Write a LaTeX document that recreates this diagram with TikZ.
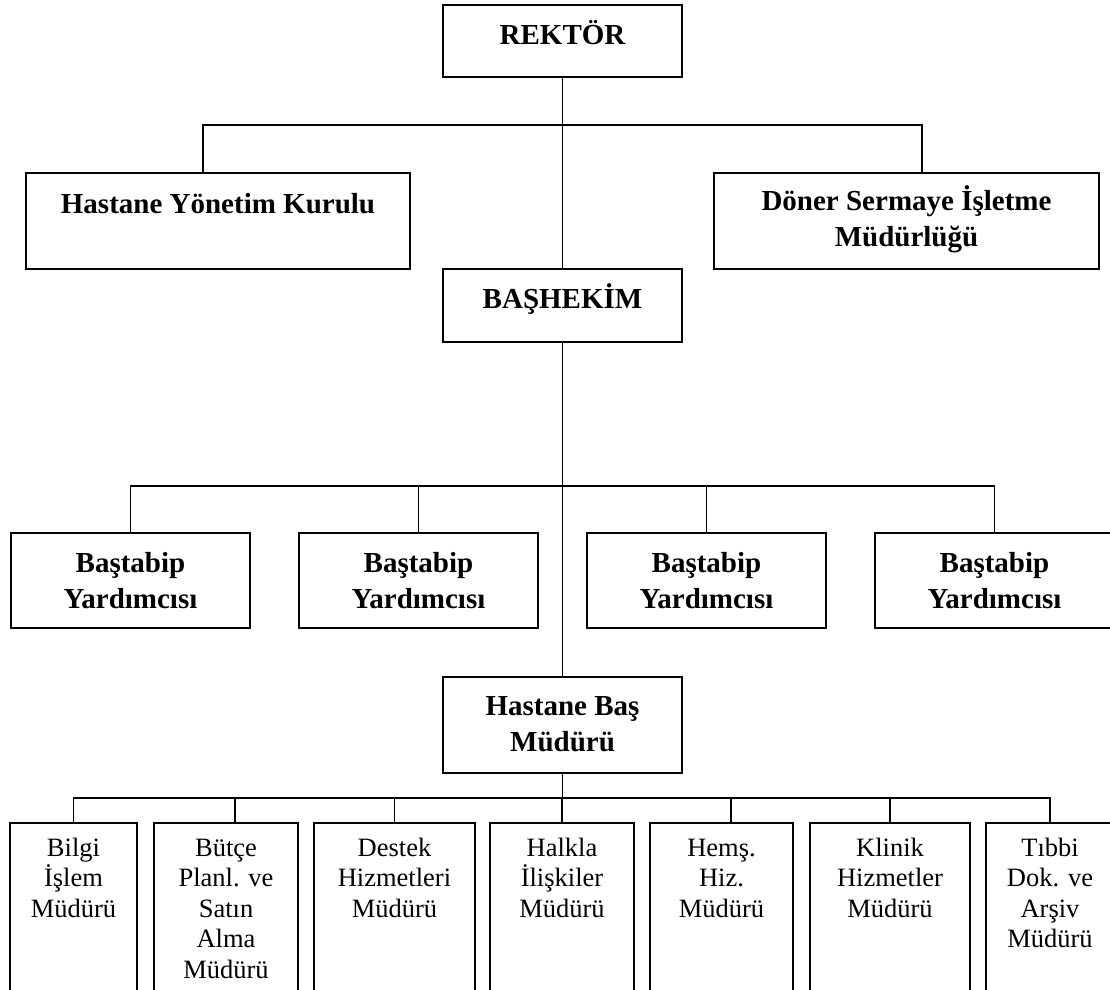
\documentclass[tikz,border=0pt]{standalone}
\usepackage{fontspec}
\setmainfont{Liberation Serif}
\begin{document}
\begin{tikzpicture}[x=1pt,y=-1pt,
  box/.style={draw, line width=2pt, rectangle, inner sep=0pt, outer sep=0pt},
  conn/.style={line width=1.6pt},
  % labels are placed by the baseline of their last line
  btxt/.style={font=\fontsize{29}{36}\selectfont\bfseries, align=center, anchor=base, inner sep=0pt},
  rtxt/.style={font=\fontsize{26.5}{30.5}\selectfont, align=center, anchor=base, inner sep=0pt}]
\useasboundingbox (0,0) rectangle (1110,989);
\clip (0,0) rectangle (1110,989);

% --- boxes ---
\node[box, minimum width=239, minimum height=72] (rek) at (562.5,41) {};
\node[box, minimum width=384, minimum height=96] (hyk) at (218,221) {};
\node[box, minimum width=385, minimum height=96] (dsm) at (906.5,221) {};
\node[box, minimum width=239, minimum height=73] (bas) at (562.5,305.5) {};
\node[box, minimum width=239, minimum height=95] (by1) at (130.5,580.5) {};
\node[box, minimum width=239, minimum height=95] (by2) at (418.5,580.5) {};
\node[box, minimum width=239, minimum height=95] (by3) at (706.5,580.5) {};
\node[box, minimum width=239, minimum height=95] (by4) at (994.5,580.5) {};
\node[box, minimum width=239, minimum height=96] (hbm) at (562.5,725) {};
\node[box, minimum width=127, minimum height=187] (m1) at (73.5,916.5) {};
\node[box, minimum width=144, minimum height=187] (m2) at (226,916.5) {};
\node[box, minimum width=161, minimum height=187] (m3) at (394.5,916.5) {};
\node[box, minimum width=144, minimum height=187] (m4) at (562,916.5) {};
\node[box, minimum width=143, minimum height=187] (m5) at (721.5,916.5) {};
\node[box, minimum width=160, minimum height=187] (m6) at (890,916.5) {};
\node[box, minimum width=128, minimum height=187] (m7) at (1050,916.5) {};

% --- connectors ---
\coordinate (dhyk) at (203,125);
\coordinate (ddsm) at (922,125);
\draw[conn] (rek.south) -- (bas.north);
\draw[conn] (dhyk |- hyk.north) -- (dhyk) -- (ddsm) -- (ddsm |- dsm.north);

\coordinate (bus2) at (562.5,486);
\draw[conn] (bas.south) -- (hbm.north);
\draw[conn] (by1.north) |- (bus2) -| (by4.north);
\draw[conn] (by2.north) -- (by2.north |- bus2);
\draw[conn] (by3.north) -- (by3.north |- bus2);

\coordinate (bus3) at (562.5,798);
\coordinate (dm2) at (235,798);
\coordinate (dm5) at (731,798);
\draw[conn] (hbm.south) -- (bus3);
\draw[conn] (m1.north) |- (bus3) -| (m7.north);
\draw[conn] (dm2) -- (dm2 |- m2.north);
\draw[conn] (m3.north) -- (m3.north |- bus3);
\draw[conn] (m4.north) -- (m4.north |- bus3);
\draw[conn] (dm5) -- (dm5 |- m5.north);
\draw[conn] (m6.north) -- (m6.north |- bus3);

% --- labels ---
\node[btxt] (t-rek) at (562.5,44) {REKTÖR};
\node[btxt] (t-hyk) at (218,213) {Hastane Yönetim Kurulu};
\node[btxt] (t-dsm) at (906.5,246) {Döner Sermaye İşletme\\Müdürlüğü};
\node[btxt] (t-bas) at (562.5,308) {BAŞHEKİM};
\node[btxt] (t-by1) at (130.5,608) {Baştabip\\Yardımcısı};
\node[btxt] (t-by2) at (418.5,608) {Baştabip\\Yardımcısı};
\node[btxt] (t-by3) at (706.5,608) {Baştabip\\Yardımcısı};
\node[btxt] (t-by4) at (994.5,608) {Baştabip\\Yardımcısı};
\node[btxt] (t-hbm) at (562.5,751) {Hastane Baş\\Müdürü};
\node[rtxt] (t-m1) at (73.5,917) {Bilgi\\İşlem\\Müdürü};
\node[rtxt] (t-m2) at (226,978) {Bütçe\\Planl. ve\\Satın\\Alma\\Müdürü};
\node[rtxt] (t-m3) at (394.5,917) {Destek\\Hizmetleri\\Müdürü};
\node[rtxt] (t-m4) at (562,917) {Halkla\\İlişkiler\\Müdürü};
\node[rtxt] (t-m5) at (721.5,917) {Hemş.\\Hiz.\\Müdürü};
\node[rtxt] (t-m6) at (890,917) {Klinik\\Hizmetler\\Müdürü};
\node[rtxt] (t-m7) at (1050,947.5) {Tıbbi\\Dok. ve\\Arşiv\\Müdürü};
\end{tikzpicture}
\end{document}
